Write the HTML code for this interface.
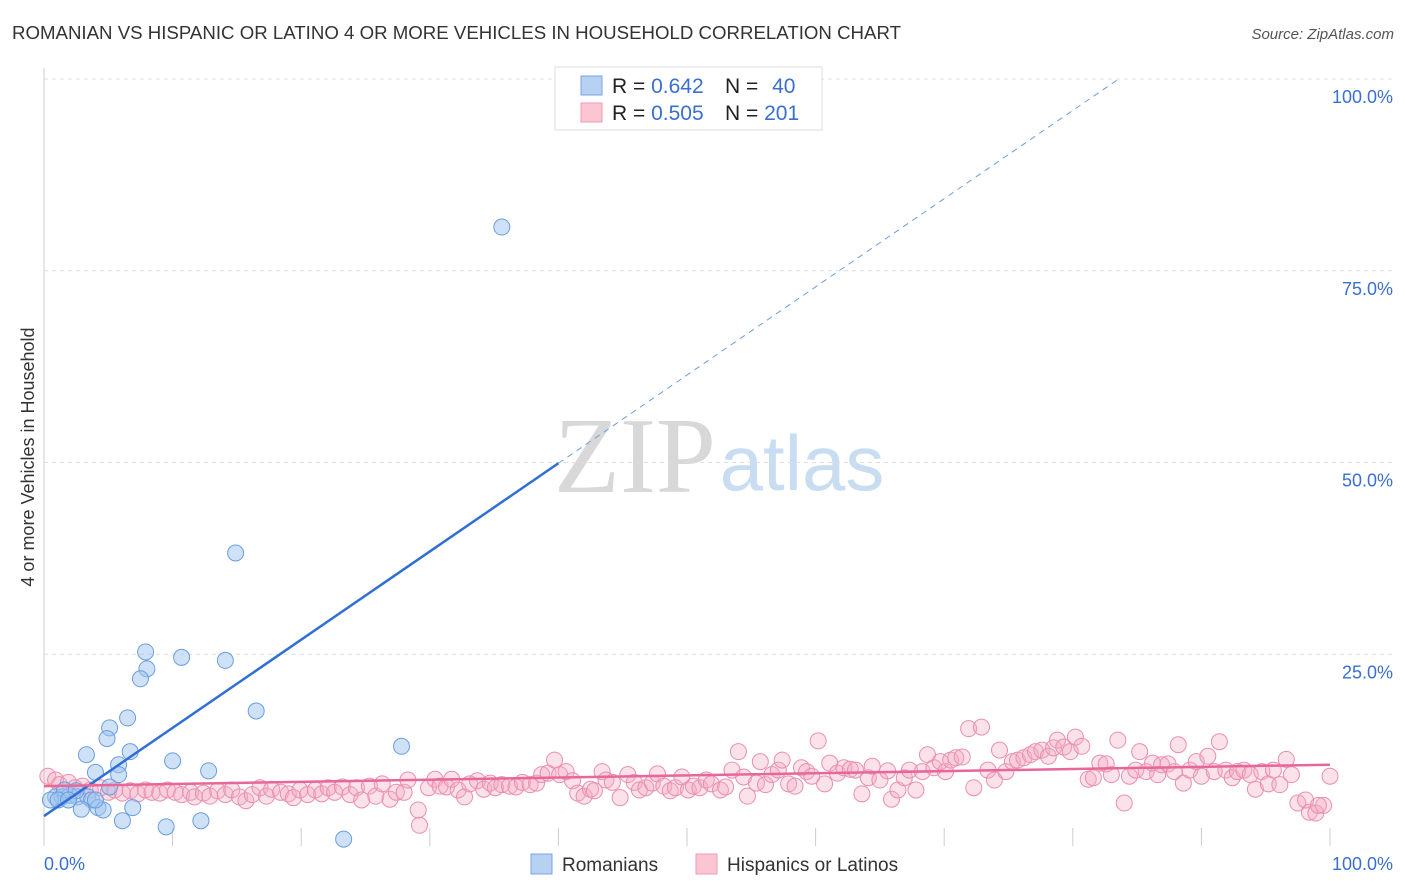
<!DOCTYPE html>
<html><head><meta charset="utf-8"><style>
body{margin:0;background:#fff;font-family:"Liberation Sans",sans-serif;}
#wrap{position:relative;width:1406px;height:892px;overflow:hidden;}
</style></head><body>
<div id="wrap">
<svg id="svg" width="1406" height="892" xmlns="http://www.w3.org/2000/svg" font-family="Liberation Sans, sans-serif">
<text x="12" y="39" font-size="18" fill="#333" textLength="889" lengthAdjust="spacingAndGlyphs">ROMANIAN VS HISPANIC OR LATINO 4 OR MORE VEHICLES IN HOUSEHOLD CORRELATION CHART</text>
<text x="1394" y="39" font-size="15" fill="#555" font-style="italic" text-anchor="end">Source: ZipAtlas.com</text>
<text transform="translate(34,457) rotate(-90)" font-size="18" fill="#333" text-anchor="middle">4 or more Vehicles in Household</text>
<g>
<text x="635" y="492" font-size="108" font-family="Liberation Serif, serif" fill="#d8d8d8" text-anchor="middle">ZIP</text>
<text x="802" y="490" font-size="78" fill="#c8dcf2" text-anchor="middle">atlas</text>
</g>
<g id="grid"></g>
<g id="marks"></g>
<g>
<rect x="555" y="67" width="267" height="63" fill="#fff" stroke="#ddd"/>
<rect x="581" y="76" width="21" height="19" fill="#b7d1f3" stroke="#7aa6e0"/>
<rect x="581" y="103" width="21" height="19" fill="#fbc5d4" stroke="#ee9ab4"/>
<text x="612" y="93" font-size="21" fill="#222">R = <tspan fill="#3a6fd0">0.642</tspan></text>
<text x="725" y="93" font-size="21" fill="#222">N = <tspan fill="#3a6fd0" dx="8">40</tspan></text>
<text x="612" y="120" font-size="21" fill="#222">R = <tspan fill="#3a6fd0">0.505</tspan></text>
<text x="725" y="120" font-size="21" fill="#222">N = <tspan fill="#3a6fd0">201</tspan></text>
</g>
<g>
<rect x="531" y="854" width="21" height="20" fill="#b7d1f3" stroke="#7aa6e0"/>
<text x="562" y="871" font-size="19" fill="#333">Romanians</text>
<rect x="696" y="854" width="21" height="20" fill="#fbc5d4" stroke="#ee9ab4"/>
<text x="727" y="871" font-size="19" fill="#333">Hispanics or Latinos</text>
</g>
</svg>
</div>
<script>
const yTicks=[25,50,75,100];
const yTickLabels=["25.0%","50.0%","75.0%","100.0%"];
const xTickVals=[10,20,30,40,50,60,70,80,90,100];
const blueX=[35.6,14.9,7.9,8.0,10.7,14.1,7.5,16.5,6.5,5.1,4.9,27.8,3.3,6.7,10.0,5.8,4.0,12.8,5.8,0.9,1.4,2.0,2.6,3.4,3.7,1.6,2.5,5.1,0.5,2.9,4.2,4.6,6.9,6.1,9.5,12.2,23.3,1.1,1.9,4.0];
const blueY=[80.7,38.2,25.3,23.1,24.6,24.2,21.8,17.6,16.7,15.4,14.0,13.0,11.9,12.3,11.1,10.6,9.6,9.8,9.3,6.4,6.4,6.6,6.4,6.4,6.0,7.3,7.2,7.7,6.0,4.8,5.0,4.7,5.0,3.3,2.5,3.3,0.9,6.0,6.0,6.0];
const pinkX=[0.3,0.9,1.2,1.9,2.4,3.0,3.6,4.4,5.0,5.5,6.1,6.7,7.3,7.9,8.4,9.0,9.6,10.2,10.7,11.4,11.7,12.4,12.9,13.5,14.1,14.6,15.2,15.7,16.2,16.8,17.3,17.7,18.4,19.0,19.4,19.9,20.5,21.1,21.6,22.1,22.6,23.2,23.8,24.3,24.7,25.3,25.8,26.3,26.9,27.4,28.0,28.3,29.1,29.2,29.9,30.4,30.8,31.3,31.7,32.2,32.7,33.1,33.7,34.2,34.7,35.1,35.6,36.2,36.7,37.2,37.8,38.3,38.7,39.2,39.7,40.1,40.6,41.1,41.5,42.0,42.5,42.8,43.4,43.7,44.2,44.8,45.4,45.9,46.3,46.8,47.3,47.7,48.2,48.7,49.1,49.6,50.1,50.5,51.0,51.5,51.9,52.6,53.0,53.5,54.0,54.4,54.7,55.4,55.7,56.1,56.6,57.1,57.4,57.9,58.4,58.9,59.3,59.7,60.2,60.7,61.1,61.7,62.2,62.7,63.1,63.6,64.1,64.4,65.0,65.6,65.9,66.4,66.9,67.3,67.8,68.3,68.7,69.2,69.7,70.1,70.5,70.9,71.4,71.9,72.3,72.9,73.4,73.9,74.3,74.8,75.3,75.7,76.2,76.7,77.1,77.6,78.1,78.5,78.8,79.3,79.8,80.2,80.7,81.2,81.6,82.1,82.6,83.0,83.5,84.0,84.4,84.9,85.2,85.7,86.2,86.6,86.9,87.4,87.9,88.2,88.6,89.1,89.6,90.0,90.5,91.0,91.4,91.9,92.4,92.8,93.3,93.8,94.2,94.7,95.2,95.6,96.1,96.6,97.0,97.5,98.1,98.4,98.9,99.5,100.0,99.1];
const pinkY=[9.1,8.6,8.0,8.3,7.6,7.8,7.3,7.6,7.0,7.3,6.9,7.2,6.8,7.3,7.0,6.9,7.3,7.0,6.7,7.0,6.4,6.9,6.5,7.2,6.7,7.3,6.4,5.9,6.7,7.6,6.5,7.4,7.0,6.8,6.3,7.3,6.7,7.3,6.8,7.6,7.0,7.7,6.7,7.6,6.0,7.8,6.5,8.1,6.1,7.0,7.0,8.6,4.7,2.7,7.6,8.7,7.8,7.7,8.7,7.3,6.4,8.1,8.5,7.4,8.2,7.6,8.0,7.8,7.7,8.3,8.0,8.2,9.3,9.5,11.2,9.3,9.7,8.5,6.9,6.5,7.4,7.2,9.7,8.6,8.3,6.3,9.3,8.3,7.3,7.6,8.2,9.4,7.8,7.2,7.6,9.0,7.3,7.8,7.6,8.6,8.1,7.3,7.7,9.9,12.3,9.0,6.5,8.2,11.0,8.0,9.3,9.9,11.2,8.1,7.8,10.2,9.7,9.1,13.7,8.1,10.8,9.5,10.2,10.0,9.9,6.8,8.9,10.4,8.6,9.8,6.1,7.3,8.9,9.9,7.3,9.7,11.9,10.2,11.0,9.7,11.2,11.5,11.6,15.3,7.6,15.5,9.9,8.6,12.5,9.7,11.0,11.2,11.5,11.9,12.3,12.5,11.7,12.8,13.8,12.9,12.3,14.2,13.0,8.7,8.9,10.8,10.7,9.3,13.8,5.6,9.1,9.9,12.3,9.7,10.8,9.3,10.6,10.7,9.7,13.2,8.2,9.9,11.0,9.1,11.7,9.7,13.6,9.9,8.9,9.7,9.9,9.3,7.4,9.7,8.1,9.9,8.0,11.3,9.3,5.6,6.0,4.4,4.3,5.3,9.1,5.3];
const blueTrend=[3.9,1.15];
const pinkTrend=[7.8,0.028];

const NS="http://www.w3.org/2000/svg";
const X0=44,X1=1330,Y0=846,Y100=79;
const sx=v=>X0+(X1-X0)*v/100;
const sy=v=>Y0-(Y0-Y100)*v/100;
function mk(tag,attrs,parent){const e=document.createElementNS(NS,tag);for(const k in attrs)e.setAttribute(k,attrs[k]);parent.appendChild(e);return e;}
const grid=document.getElementById('grid'),marks=document.getElementById('marks');
const ax=mk('line',{x1:X0,x2:X0,y1:68,y2:Y0,stroke:'#ccc'},grid);


yTicks.forEach((t,i)=>{
  const g=mk('line',{x1:X0,x2:1393,y1:sy(t),y2:sy(t),stroke:'#ddd','stroke-dasharray':'4,4'},grid);
  
  
  const tx=mk('text',{x:1393,y:sy(t)+24,'font-size':18,fill:'#3a6fd0','text-anchor':'end'},grid);
  tx.textContent=yTickLabels[i];
  
  
});
xTickVals.forEach(t=>{
  const l=mk('line',{x1:sx(t),x2:sx(t),y1:828,y2:Y0,stroke:'#ccc'},grid);
  
  
});
const xl0=mk('text',{x:X0,y:870,'font-size':18,fill:'#3a6fd0'},grid);xl0.textContent='0.0%';


const xl1=mk('text',{x:1393,y:870,'font-size':18,fill:'#3a6fd0','text-anchor':'end'},grid);xl1.textContent='100.0%';



pinkX.forEach((v,i)=>{
  const c=mk('circle',{cx:sx(v),cy:sy(pinkY[i]),r:8,fill:'rgba(244,170,195,0.35)',stroke:'#ea8fae','stroke-width':1},marks);
  
  
});
blueX.forEach((v,i)=>{
  const c=mk('circle',{cx:sx(v),cy:sy(blueY[i]),r:8,fill:'rgba(160,195,240,0.5)',stroke:'#6a9ee0','stroke-width':1},marks);
  
  
});
const xEnd=(100-blueTrend[0])/blueTrend[1];
const bs=mk('line',{x1:sx(0),y1:sy(blueTrend[0]),x2:sx(40),y2:sy(blueTrend[0]+blueTrend[1]*40),stroke:'#2f6fd6','stroke-width':2.5},marks);


const bd=mk('line',{x1:sx(40),y1:sy(blueTrend[0]+blueTrend[1]*40),x2:sx(xEnd),y2:sy(100),stroke:'#6a9ee0','stroke-width':1,'stroke-dasharray':'6,5'},marks);


const pl=mk('line',{x1:sx(0),y1:sy(pinkTrend[0]),x2:sx(100),y2:sy(pinkTrend[0]+pinkTrend[1]*100),stroke:'#e8679a','stroke-width':2.5},marks);


</script>
</body></html>
